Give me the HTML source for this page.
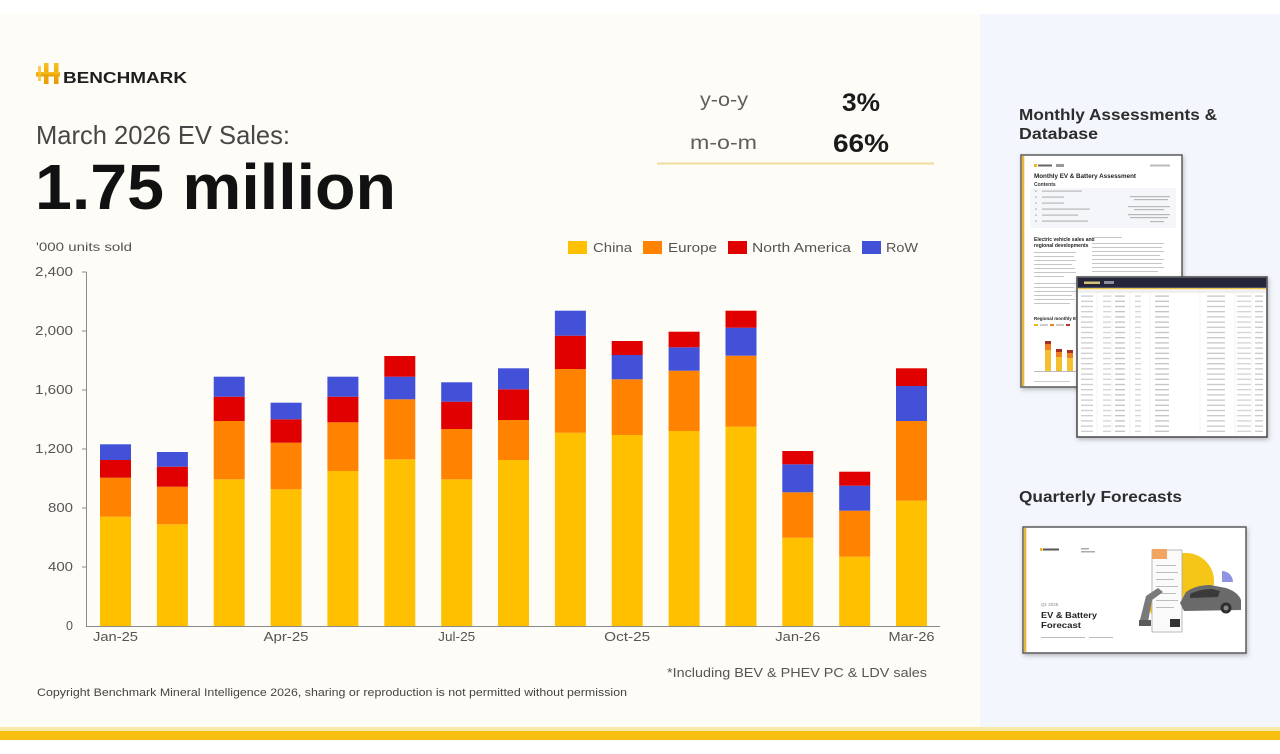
<!DOCTYPE html>
<html><head><meta charset="utf-8"><style>
html,body{margin:0;padding:0;background:#fff;}
svg{display:block;}
text{font-family:"Liberation Sans",sans-serif;}
</style></head><body>
<svg width="1280" height="754" viewBox="0 0 1280 754" xmlns="http://www.w3.org/2000/svg">
<defs>
<filter id="sh" x="-10%" y="-10%" width="130%" height="130%"><feDropShadow dx="1" dy="2" stdDeviation="2" flood-color="#000" flood-opacity="0.25"/></filter>
<linearGradient id="gold" x1="0" y1="0" x2="0" y2="1"><stop offset="0" stop-color="#F8C020"/><stop offset="1" stop-color="#E49A00"/></linearGradient>
<pattern id="rows" x="1077" y="294" width="190" height="5.2" patternUnits="userSpaceOnUse">
<rect x="4" y="1.5" width="12" height="1.2" fill="#c9c9c9"/>
<rect x="26" y="1.5" width="8" height="1.2" fill="#cfcfcf"/>
<rect x="38" y="1.5" width="10" height="1.2" fill="#bdbdbd"/>
<rect x="58" y="1.5" width="6" height="1.2" fill="#cfcfcf"/>
<rect x="78" y="1.5" width="14" height="1.2" fill="#bdbdbd"/>
<rect x="130" y="1.5" width="18" height="1.2" fill="#c4c4c4"/>
<rect x="160" y="1.5" width="14" height="1.2" fill="#cfcfcf"/>
<rect x="178" y="1.5" width="8" height="1.2" fill="#c4c4c4"/>
</pattern>
</defs>

<!-- backgrounds -->
<rect x="0" y="0" width="1280" height="754" fill="#ffffff"/>
<rect x="0" y="14" width="980" height="717" fill="#FEFCF7"/>
<rect x="980" y="14" width="300" height="717" fill="#F3F6FC"/>
<rect x="0" y="727" width="1280" height="4" fill="#F8E9A8"/>
<rect x="0" y="731" width="1280" height="9" fill="#F7C010"/>

<!-- logo -->
<rect x="44" y="63" width="4.5" height="21" fill="url(#gold)"/>
<rect x="54" y="63" width="4.5" height="21" fill="url(#gold)"/>
<rect x="36" y="72" width="24" height="4.5" fill="url(#gold)"/>
<rect x="38" y="66" width="3" height="15" fill="#F5C030" opacity="0.8"/>
<text x="63" y="83" font-size="15.5" font-weight="bold" fill="#1e1e1e" textLength="124" lengthAdjust="spacingAndGlyphs">BENCHMARK</text>

<!-- title -->
<text x="36" y="144" font-size="26" fill="#474747" textLength="254" lengthAdjust="spacingAndGlyphs">March 2026 EV Sales:</text>
<text x="35" y="209" font-size="64" font-weight="bold" fill="#111" textLength="361" lengthAdjust="spacingAndGlyphs">1.75 million</text>

<!-- stats -->
<text x="700" y="106" font-size="19" fill="#5e5e5e" textLength="48" lengthAdjust="spacingAndGlyphs">y-o-y</text>
<text x="842" y="111" font-size="25" font-weight="bold" fill="#1a1a1a" textLength="38" lengthAdjust="spacingAndGlyphs">3%</text>
<text x="690" y="149" font-size="19" fill="#5e5e5e" textLength="67" lengthAdjust="spacingAndGlyphs">m-o-m</text>
<text x="833" y="152" font-size="25" font-weight="bold" fill="#1a1a1a" textLength="56" lengthAdjust="spacingAndGlyphs">66%</text>
<line x1="657" y1="163.5" x2="934" y2="163.5" stroke="#EEDD9C" stroke-width="2"/>

<!-- axis title & legend -->
<text x="36" y="251" font-size="12" fill="#555" textLength="96" lengthAdjust="spacingAndGlyphs">'000 units sold</text>
<rect x="568" y="241" width="19" height="13" fill="#FFC000"/>
<text x="593" y="252" font-size="13" fill="#555" textLength="39" lengthAdjust="spacingAndGlyphs">China</text>
<rect x="643" y="241" width="19" height="13" fill="#FF8200"/>
<text x="668" y="252" font-size="13" fill="#555" textLength="49" lengthAdjust="spacingAndGlyphs">Europe</text>
<rect x="728" y="241" width="19" height="13" fill="#E00000"/>
<text x="752" y="252" font-size="13" fill="#555" textLength="99" lengthAdjust="spacingAndGlyphs">North America</text>
<rect x="862" y="241" width="19" height="13" fill="#4350D8"/>
<text x="886" y="252" font-size="13" fill="#555" textLength="32" lengthAdjust="spacingAndGlyphs">RoW</text>

<!-- y axis -->
<g font-size="12.5" fill="#555" text-anchor="end">
<text x="73" y="276" textLength="38" lengthAdjust="spacingAndGlyphs">2,400</text>
<text x="73" y="335" textLength="38" lengthAdjust="spacingAndGlyphs">2,000</text>
<text x="73" y="394" textLength="38" lengthAdjust="spacingAndGlyphs">1,600</text>
<text x="73" y="453" textLength="38" lengthAdjust="spacingAndGlyphs">1,200</text>
<text x="73" y="512" textLength="25" lengthAdjust="spacingAndGlyphs">800</text>
<text x="73" y="571" textLength="25" lengthAdjust="spacingAndGlyphs">400</text>
<text x="73" y="630">0</text>
</g>
<g stroke="#8a8a8a" stroke-width="1">
<line x1="86.5" y1="272" x2="86.5" y2="626"/>
<line x1="82" y1="272" x2="86.5" y2="272"/>
<line x1="82" y1="331" x2="86.5" y2="331"/>
<line x1="82" y1="390" x2="86.5" y2="390"/>
<line x1="82" y1="449" x2="86.5" y2="449"/>
<line x1="82" y1="508" x2="86.5" y2="508"/>
<line x1="82" y1="567" x2="86.5" y2="567"/>
</g>

<!-- bars -->
<g>
<rect x="100" y="516.7" width="31" height="109.3" fill="#FFC000"/><rect x="100" y="477.7" width="31" height="39" fill="#FF8200"/><rect x="100" y="460" width="31" height="17.7" fill="#E00000"/><rect x="100" y="444.3" width="31" height="15.7" fill="#4350D8"/>
<rect x="156.9" y="524.3" width="31" height="101.7" fill="#FFC000"/><rect x="156.9" y="486.7" width="31" height="37.6" fill="#FF8200"/><rect x="156.9" y="466.7" width="31" height="20" fill="#E00000"/><rect x="156.9" y="452" width="31" height="14.7" fill="#4350D8"/>
<rect x="213.7" y="479.3" width="31" height="146.7" fill="#FFC000"/><rect x="213.7" y="421" width="31" height="58.3" fill="#FF8200"/><rect x="213.7" y="396.7" width="31" height="24.3" fill="#E00000"/><rect x="213.7" y="376.7" width="31" height="20" fill="#4350D8"/>
<rect x="270.6" y="489.3" width="31" height="136.7" fill="#FFC000"/><rect x="270.6" y="442.7" width="31" height="46.6" fill="#FF8200"/><rect x="270.6" y="419.3" width="31" height="23.4" fill="#E00000"/><rect x="270.6" y="402.7" width="31" height="16.6" fill="#4350D8"/>
<rect x="327.4" y="471" width="31" height="155" fill="#FFC000"/><rect x="327.4" y="422.3" width="31" height="48.7" fill="#FF8200"/><rect x="327.4" y="396.7" width="31" height="25.6" fill="#E00000"/><rect x="327.4" y="376.7" width="31" height="20" fill="#4350D8"/>
<rect x="384.3" y="459.3" width="31" height="166.7" fill="#FFC000"/><rect x="384.3" y="399.3" width="31" height="60" fill="#FF8200"/><rect x="384.3" y="376.7" width="31" height="22.6" fill="#4350D8"/><rect x="384.3" y="356" width="31" height="20.7" fill="#E00000"/>
<rect x="441.2" y="479.3" width="31" height="146.7" fill="#FFC000"/><rect x="441.2" y="429" width="31" height="50.3" fill="#FF8200"/><rect x="441.2" y="401.7" width="31" height="27.3" fill="#E00000"/><rect x="441.2" y="382.3" width="31" height="19.4" fill="#4350D8"/>
<rect x="498" y="460" width="31" height="166" fill="#FFC000"/><rect x="498" y="420" width="31" height="40" fill="#FF8200"/><rect x="498" y="389.3" width="31" height="30.7" fill="#E00000"/><rect x="498" y="368.3" width="31" height="21" fill="#4350D8"/>
<rect x="554.9" y="432.7" width="31" height="193.3" fill="#FFC000"/><rect x="554.9" y="369" width="31" height="63.7" fill="#FF8200"/><rect x="554.9" y="335.7" width="31" height="33.3" fill="#E00000"/><rect x="554.9" y="310.7" width="31" height="25" fill="#4350D8"/>
<rect x="611.7" y="435" width="31" height="191" fill="#FFC000"/><rect x="611.7" y="379.3" width="31" height="55.7" fill="#FF8200"/><rect x="611.7" y="355" width="31" height="24.3" fill="#4350D8"/><rect x="611.7" y="341" width="31" height="14" fill="#E00000"/>
<rect x="668.6" y="431" width="31" height="195" fill="#FFC000"/><rect x="668.6" y="370.7" width="31" height="60.3" fill="#FF8200"/><rect x="668.6" y="347.3" width="31" height="23.4" fill="#4350D8"/><rect x="668.6" y="331.7" width="31" height="15.6" fill="#E00000"/>
<rect x="725.5" y="426.7" width="31" height="199.3" fill="#FFC000"/><rect x="725.5" y="355.7" width="31" height="71" fill="#FF8200"/><rect x="725.5" y="327.7" width="31" height="28" fill="#4350D8"/><rect x="725.5" y="310.7" width="31" height="17" fill="#E00000"/>
<rect x="782.3" y="537.7" width="31" height="88.3" fill="#FFC000"/><rect x="782.3" y="492.3" width="31" height="45.4" fill="#FF8200"/><rect x="782.3" y="464.3" width="31" height="28" fill="#4350D8"/><rect x="782.3" y="451" width="31" height="13.3" fill="#E00000"/>
<rect x="839.2" y="556.7" width="31" height="69.3" fill="#FFC000"/><rect x="839.2" y="510.7" width="31" height="46" fill="#FF8200"/><rect x="839.2" y="485.7" width="31" height="25" fill="#4350D8"/><rect x="839.2" y="471.7" width="31" height="14" fill="#E00000"/>
<rect x="896" y="500.7" width="31" height="125.3" fill="#FFC000"/><rect x="896" y="421" width="31" height="79.7" fill="#FF8200"/><rect x="896" y="386" width="31" height="35" fill="#4350D8"/><rect x="896" y="368.3" width="31" height="17.7" fill="#E00000"/>
</g>
<line x1="86" y1="626.5" x2="940" y2="626.5" stroke="#8a8a8a" stroke-width="1"/>

<!-- x labels -->
<g font-size="12.5" fill="#555" text-anchor="middle">
<text x="115.5" y="641" textLength="45" lengthAdjust="spacingAndGlyphs">Jan-25</text>
<text x="286" y="641" textLength="45" lengthAdjust="spacingAndGlyphs">Apr-25</text>
<text x="456.7" y="641" textLength="37" lengthAdjust="spacingAndGlyphs">Jul-25</text>
<text x="627.2" y="641" textLength="46" lengthAdjust="spacingAndGlyphs">Oct-25</text>
<text x="797.8" y="641" textLength="45" lengthAdjust="spacingAndGlyphs">Jan-26</text>
<text x="911.5" y="641" textLength="46" lengthAdjust="spacingAndGlyphs">Mar-26</text>
</g>

<text x="667" y="677" font-size="13" fill="#555" textLength="260" lengthAdjust="spacingAndGlyphs">*Including BEV &amp; PHEV PC &amp; LDV sales</text>
<text x="37" y="696" font-size="11" fill="#444" textLength="590" lengthAdjust="spacingAndGlyphs">Copyright Benchmark Mineral Intelligence 2026, sharing or reproduction is not permitted without permission</text>

<!-- right panel -->
<text x="1019" y="120" font-size="16" font-weight="bold" fill="#2d2d2d" textLength="198" lengthAdjust="spacingAndGlyphs">Monthly Assessments &amp;</text>
<text x="1019" y="139" font-size="16" font-weight="bold" fill="#2d2d2d" textLength="79" lengthAdjust="spacingAndGlyphs">Database</text>

<!-- doc 1 -->
<g filter="url(#sh)"><rect x="1021" y="155" width="161" height="232" fill="#fff" stroke="#5a5a5a" stroke-width="1.5"/></g>
<rect x="1021.8" y="156" width="2.5" height="230" fill="#E6B73A"/>
<rect x="1034" y="164" width="3" height="3" fill="#F0B820"/><rect x="1038" y="164.5" width="14" height="2" fill="#666"/><rect x="1056" y="164" width="8" height="3" fill="#999"/>
<rect x="1150" y="164.5" width="20" height="2" fill="#bbb"/>
<text x="1034" y="178" font-size="6.5" font-weight="bold" fill="#222" textLength="102" lengthAdjust="spacingAndGlyphs">Monthly EV &amp; Battery Assessment</text>
<text x="1034" y="186" font-size="5" font-weight="bold" fill="#333">Contents</text>
<rect x="1030" y="188" width="146" height="40" fill="#F4F6FA"/>
<g fill="#b8b8b8">
<rect x="1035" y="190.5" width="2" height="1.2"/><rect x="1042" y="190.5" width="40" height="1.2"/>
<rect x="1035" y="196.5" width="2" height="1.2"/><rect x="1042" y="196.5" width="22" height="1.2"/><rect x="1130" y="196" width="40" height="1.2"/><rect x="1134" y="199" width="34" height="1.2"/>
<rect x="1035" y="202.5" width="2" height="1.2"/><rect x="1042" y="202.5" width="22" height="1.2"/>
<rect x="1035" y="208.5" width="2" height="1.2"/><rect x="1042" y="208.5" width="48" height="1.2"/><rect x="1128" y="206" width="42" height="1.2"/><rect x="1134" y="209" width="30" height="1.2"/>
<rect x="1035" y="214.5" width="2" height="1.2"/><rect x="1042" y="214.5" width="36" height="1.2"/><rect x="1128" y="214" width="42" height="1.2"/><rect x="1130" y="217" width="38" height="1.2"/>
<rect x="1035" y="220.5" width="2" height="1.2"/><rect x="1042" y="220.5" width="46" height="1.2"/><rect x="1150" y="221" width="14" height="1.2"/>
</g>
<text x="1034" y="241" font-size="5" font-weight="bold" fill="#222">Electric vehicle sales and</text>
<text x="1034" y="247" font-size="5" font-weight="bold" fill="#222">regional developments</text>
<g fill="#c6c6c6">
<rect x="1034" y="252" width="42" height="1"/><rect x="1034" y="256" width="40" height="1"/><rect x="1034" y="260" width="42" height="1"/><rect x="1034" y="264" width="38" height="1"/><rect x="1034" y="268" width="41" height="1"/><rect x="1034" y="272" width="42" height="1"/><rect x="1034" y="276" width="30" height="1"/>
<rect x="1034" y="283" width="42" height="1"/><rect x="1034" y="287" width="40" height="1"/><rect x="1034" y="291" width="42" height="1"/><rect x="1034" y="295" width="38" height="1"/><rect x="1034" y="299" width="41" height="1"/><rect x="1034" y="303" width="36" height="1"/>
<rect x="1092" y="237" width="30" height="1"/><rect x="1092" y="243" width="72" height="1"/><rect x="1092" y="247" width="70" height="1"/><rect x="1092" y="251" width="72" height="1"/><rect x="1092" y="255" width="68" height="1"/><rect x="1092" y="259" width="72" height="1"/><rect x="1092" y="263" width="70" height="1"/><rect x="1092" y="267" width="72" height="1"/><rect x="1092" y="271" width="66" height="1"/>
</g>
<text x="1034" y="320" font-size="4.5" font-weight="bold" fill="#222">Regional monthly EV</text>
<rect x="1034" y="324" width="4" height="2" fill="#F0B820"/><rect x="1040" y="324" width="8" height="2" fill="#ccc"/><rect x="1050" y="324" width="4" height="2" fill="#F08020"/><rect x="1056" y="324" width="8" height="2" fill="#ccc"/><rect x="1066" y="324" width="4" height="2" fill="#C03020"/>
<g>
<rect x="1045" y="350" width="6" height="21" fill="#F5C030"/><rect x="1045" y="344" width="6" height="6" fill="#F08020"/><rect x="1045" y="341" width="6" height="3" fill="#A03020"/>
<rect x="1056" y="357" width="6" height="14" fill="#F5C030"/><rect x="1056" y="352" width="6" height="5" fill="#F08020"/><rect x="1056" y="349" width="6" height="3" fill="#A03020"/>
<rect x="1067" y="358" width="6" height="13" fill="#F5C030"/><rect x="1067" y="353" width="6" height="5" fill="#F08020"/><rect x="1067" y="350" width="6" height="3" fill="#A03020"/>
</g>
<rect x="1034" y="371" width="42" height="0.8" fill="#aaa"/>
<rect x="1034" y="381" width="36" height="1" fill="#ccc"/>

<!-- doc 2 -->
<g filter="url(#sh)"><rect x="1077" y="277" width="190" height="160" fill="#fff" stroke="#474747" stroke-width="1.5"/></g>
<rect x="1077.8" y="277.8" width="188.4" height="10" fill="#23253A"/>
<rect x="1084" y="281.5" width="16" height="2.5" fill="#D8C27A"/><rect x="1104" y="281" width="10" height="3" fill="#8e8e9a"/>
<rect x="1077.8" y="288" width="188.4" height="1.3" fill="#E6C24A"/>
<rect x="1078" y="290" width="188" height="3" fill="#f0f0f0"/>
<rect x="1078" y="294" width="188" height="141" fill="url(#rows)"/>
<g stroke="#ececec" stroke-width="0.6">
<line x1="1097" y1="290" x2="1097" y2="435"/><line x1="1112" y1="290" x2="1112" y2="435"/><line x1="1130" y1="290" x2="1130" y2="435"/><line x1="1150" y1="290" x2="1150" y2="435"/><line x1="1200" y1="290" x2="1200" y2="435"/><line x1="1235" y1="290" x2="1235" y2="435"/><line x1="1252" y1="290" x2="1252" y2="435"/>
</g>

<!-- quarterly -->
<text x="1019" y="502" font-size="16" font-weight="bold" fill="#2d2d2d" textLength="163" lengthAdjust="spacingAndGlyphs">Quarterly Forecasts</text>
<g filter="url(#sh)"><rect x="1023" y="527" width="223" height="126" fill="#fff" stroke="#5a5a5a" stroke-width="1.5"/></g>
<rect x="1023.8" y="528" width="2.5" height="124" fill="#E6B73A"/>
<rect x="1040" y="548" width="2.5" height="3" fill="#F0B820"/><rect x="1043" y="548.5" width="16" height="2" fill="#555"/><rect x="1081" y="548" width="8" height="1.5" fill="#aaa"/><rect x="1081" y="551" width="14" height="1.5" fill="#aaa"/>
<circle cx="1186" cy="581" r="28" fill="#F5C518"/>
<circle cx="1160" cy="607" r="11" fill="#F5C518"/>
<path d="M1222 571 A11 11 0 0 1 1233 582 L1222 582 Z" fill="#8F93E2"/>
<rect x="1152" y="550" width="30" height="82" fill="#fafafa" stroke="#aaa" stroke-width="0.8"/>
<rect x="1152" y="549" width="15" height="10" fill="#F2A560"/>
<g fill="#bdbdbd"><rect x="1156" y="565" width="20" height="1"/><rect x="1156" y="572" width="22" height="1"/><rect x="1156" y="579" width="18" height="1"/><rect x="1156" y="586" width="22" height="1"/><rect x="1156" y="593" width="20" height="1"/><rect x="1156" y="600" width="22" height="1"/><rect x="1156" y="607" width="18" height="1"/></g>
<rect x="1170" y="619" width="10" height="8" fill="#333"/>
<path d="M1140 620 L1146 596 L1158 588 L1163 592 L1152 600 L1148 622 Z" fill="#7a7a7a"/>
<rect x="1139" y="620" width="12" height="6" fill="#5a5a5a"/>
<path d="M1180 603 L1186 592 Q1196 585 1210 585 L1226 588 Q1238 592 1241 600 L1241 610 L1184 611 Z" fill="#6a6a6a"/>
<path d="M1190 594 Q1200 589 1212 589 L1220 591 L1218 597 L1190 598 Z" fill="#3a3a3a"/>
<circle cx="1226" cy="608" r="5.5" fill="#2e2e2e"/><circle cx="1226" cy="608" r="2.5" fill="#888"/>
<text x="1041" y="606" font-size="4.5" fill="#888">Q1 2026</text>
<text x="1041" y="618" font-size="8.5" font-weight="bold" fill="#222" textLength="56" lengthAdjust="spacingAndGlyphs">EV &amp; Battery</text>
<text x="1041" y="628" font-size="8.5" font-weight="bold" fill="#222" textLength="40" lengthAdjust="spacingAndGlyphs">Forecast</text>
<rect x="1041" y="637" width="44" height="1" fill="#bbb"/><rect x="1089" y="637" width="24" height="1" fill="#bbb"/>
</svg>
</body></html>
